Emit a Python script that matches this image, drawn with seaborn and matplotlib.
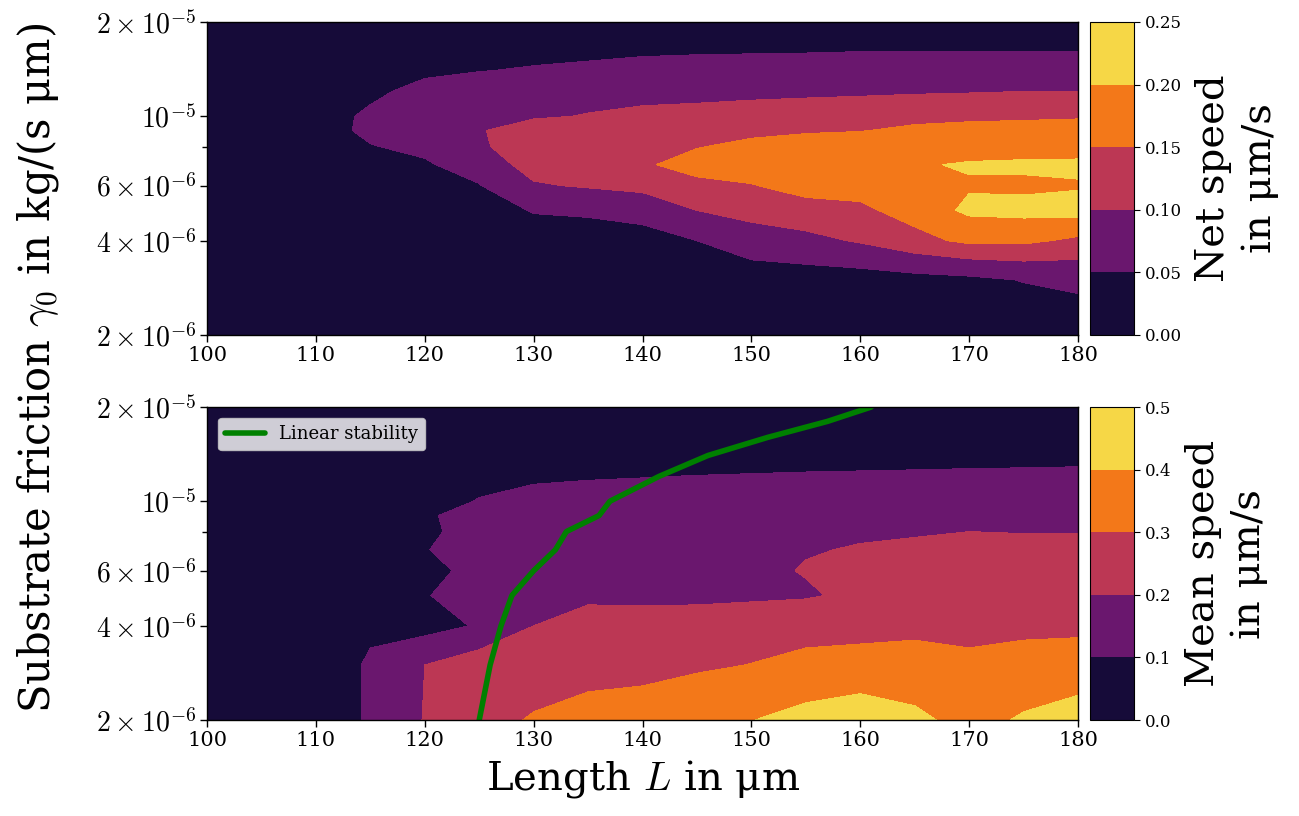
import numpy as np
import matplotlib
matplotlib.use("Agg")
import matplotlib.pyplot as plt
import seaborn as sns
from matplotlib.ticker import FixedLocator, NullFormatter, FormatStrFormatter

# ---------------- data ----------------
length_um = [100, 105, 110, 115, 120, 125, 130, 135, 140, 145, 150, 155, 160, 165, 170, 175, 180]
friction = [2e-6, 3e-6, 4e-6, 5e-6, 6e-6, 7e-6, 8e-6, 9e-6, 1e-5, 1.2e-5, 1.4e-5, 1.6e-5, 1.8e-5, 2e-5]

# net speed (µm/s): one list per length, values from lowest to highest friction
net_speed_by_length = [
    [0.01, 0.01, 0.01, 0.01, 0.02, 0.02, 0.02, 0.02, 0.02, 0.02, 0.01, 0.01, 0.01, 0.01],
    [0.01, 0.01, 0.01, 0.02, 0.02, 0.02, 0.03, 0.03, 0.03, 0.02, 0.02, 0.01, 0.01, 0.01],
    [0.01, 0.01, 0.02, 0.02, 0.03, 0.03, 0.03, 0.03, 0.03, 0.03, 0.03, 0.02, 0.01, 0.01],
    [0.01, 0.01, 0.02, 0.03, 0.035, 0.04, 0.048, 0.06, 0.058, 0.04, 0.035, 0.025, 0.015, 0.01],
    [0.01, 0.015, 0.02, 0.03, 0.038, 0.045, 0.06, 0.07, 0.075, 0.065, 0.04, 0.025, 0.015, 0.01],
    [0.01, 0.02, 0.025, 0.035, 0.048, 0.07, 0.092, 0.097, 0.095, 0.08, 0.048, 0.03, 0.015, 0.01],
    [0.015, 0.025, 0.035, 0.052, 0.095, 0.12, 0.13, 0.12, 0.095, 0.08, 0.055, 0.035, 0.02, 0.01],
    [0.015, 0.025, 0.035, 0.055, 0.105, 0.13, 0.14, 0.13, 0.102, 0.085, 0.06, 0.04, 0.02, 0.01],
    [0.015, 0.025, 0.035, 0.065, 0.115, 0.145, 0.145, 0.13, 0.11, 0.085, 0.065, 0.045, 0.025, 0.01],
    [0.015, 0.03, 0.05, 0.10, 0.14, 0.165, 0.148, 0.135, 0.115, 0.085, 0.068, 0.047, 0.025, 0.01],
    [0.015, 0.03, 0.072, 0.12, 0.148, 0.17, 0.16, 0.14, 0.12, 0.088, 0.07, 0.048, 0.025, 0.01],
    [0.015, 0.03, 0.085, 0.135, 0.165, 0.18, 0.17, 0.145, 0.125, 0.09, 0.072, 0.049, 0.025, 0.01],
    [0.015, 0.03, 0.105, 0.14, 0.17, 0.19, 0.18, 0.148, 0.13, 0.092, 0.073, 0.051, 0.025, 0.01],
    [0.015, 0.035, 0.135, 0.17, 0.185, 0.195, 0.18, 0.16, 0.135, 0.095, 0.075, 0.051, 0.025, 0.01],
    [0.02, 0.04, 0.16, 0.21, 0.195, 0.205, 0.175, 0.165, 0.14, 0.097, 0.077, 0.051, 0.025, 0.01],
    [0.02, 0.052, 0.16, 0.215, 0.19, 0.21, 0.172, 0.168, 0.142, 0.10, 0.078, 0.051, 0.025, 0.01],
    [0.02, 0.062, 0.14, 0.22, 0.195, 0.212, 0.172, 0.17, 0.145, 0.10, 0.078, 0.051, 0.025, 0.01],
]

# mean speed (µm/s): one list per length, values from lowest to highest friction
mean_speed_by_length = [
    [0.03, 0.03, 0.03, 0.03, 0.03, 0.03, 0.03, 0.03, 0.03, 0.02, 0.02, 0.02, 0.02, 0.02],
    [0.04, 0.04, 0.04, 0.04, 0.04, 0.04, 0.04, 0.04, 0.04, 0.03, 0.02, 0.02, 0.02, 0.02],
    [0.05, 0.05, 0.05, 0.05, 0.05, 0.05, 0.05, 0.05, 0.04, 0.03, 0.02, 0.02, 0.02, 0.02],
    [0.11, 0.11, 0.085, 0.07, 0.07, 0.07, 0.07, 0.06, 0.05, 0.04, 0.03, 0.02, 0.02, 0.02],
    [0.205, 0.2, 0.06, 0.095, 0.07, 0.095, 0.08, 0.09, 0.06, 0.04, 0.03, 0.02, 0.02, 0.02],
    [0.28, 0.25, 0.11, 0.14, 0.13, 0.15, 0.14, 0.13, 0.105, 0.07, 0.04, 0.03, 0.02, 0.02],
    [0.305, 0.265, 0.2, 0.16, 0.15, 0.15, 0.14, 0.13, 0.12, 0.09, 0.05, 0.03, 0.02, 0.02],
    [0.33, 0.265, 0.23, 0.185, 0.16, 0.16, 0.15, 0.14, 0.125, 0.095, 0.055, 0.03, 0.02, 0.02],
    [0.34, 0.27, 0.235, 0.18, 0.165, 0.17, 0.16, 0.15, 0.13, 0.098, 0.06, 0.03, 0.02, 0.02],
    [0.37, 0.285, 0.24, 0.18, 0.17, 0.175, 0.165, 0.155, 0.135, 0.102, 0.062, 0.03, 0.02, 0.02],
    [0.398, 0.302, 0.25, 0.185, 0.18, 0.185, 0.175, 0.16, 0.14, 0.105, 0.065, 0.03, 0.02, 0.02],
    [0.43, 0.32, 0.27, 0.19, 0.205, 0.195, 0.18, 0.165, 0.145, 0.108, 0.068, 0.03, 0.02, 0.02],
    [0.46, 0.32, 0.28, 0.22, 0.22, 0.205, 0.19, 0.17, 0.15, 0.11, 0.07, 0.035, 0.02, 0.02],
    [0.42, 0.33, 0.28, 0.24, 0.23, 0.21, 0.195, 0.175, 0.155, 0.112, 0.072, 0.035, 0.02, 0.02],
    [0.37, 0.32, 0.27, 0.25, 0.24, 0.215, 0.2, 0.18, 0.16, 0.115, 0.073, 0.035, 0.02, 0.02],
    [0.41, 0.33, 0.28, 0.25, 0.24, 0.215, 0.198, 0.18, 0.16, 0.117, 0.074, 0.035, 0.02, 0.02],
    [0.44, 0.34, 0.28, 0.25, 0.24, 0.215, 0.198, 0.18, 0.16, 0.12, 0.075, 0.035, 0.02, 0.02],
]

stability_length = [125, 126, 127, 128, 130, 132, 133, 136, 137, 141.5, 146, 151.5, 157, 161]
stability_friction = [2e-6, 3e-6, 4e-6, 5e-6, 6e-6, 7e-6, 8e-6, 9e-6, 1e-5, 1.2e-5, 1.4e-5, 1.6e-5, 1.8e-5, 2e-5]

net_levels = [0.0, 0.05, 0.10, 0.15, 0.20, 0.25]
mean_levels = [0.0, 0.1, 0.2, 0.3, 0.4, 0.5]

x_ticks = [100, 110, 120, 130, 140, 150, 160, 170, 180]
y_ticks = [2e-6, 4e-6, 6e-6, 1e-5, 2e-5]
y_ticklabels = [r"$2\times10^{-6}$", r"$4\times10^{-6}$", r"$6\times10^{-6}$",
                r"$10^{-5}$", r"$2\times10^{-5}$"]
y_minor = [8e-6]

# ---------------- style ----------------
sns.set_style("ticks")
plt.rcParams["font.family"] = ["DejaVu Serif"]
plt.rcParams["mathtext.fontset"] = "cm"
plt.rcParams["axes.edgecolor"] = "black"
plt.rcParams["text.color"] = "black"
plt.rcParams["axes.labelcolor"] = "black"
plt.rcParams["xtick.color"] = "black"
plt.rcParams["ytick.color"] = "black"

fig = plt.figure(figsize=(12.99, 8.16), dpi=100)
ax1 = fig.add_axes([0.1594, 0.5895, 0.6705, 0.3836])
ax2 = fig.add_axes([0.1594, 0.1176, 0.6705, 0.3836])
cax1 = fig.add_axes([0.8391, 0.5895, 0.0339, 0.3836])
cax2 = fig.add_axes([0.8391, 0.1176, 0.0339, 0.3836])

X, Y = np.meshgrid(length_um, friction)
Z_net = np.array(net_speed_by_length).T
Z_mean = np.array(mean_speed_by_length).T

cs1 = ax1.contourf(X, Y, Z_net, levels=net_levels, cmap="inferno")
cs2 = ax2.contourf(X, Y, Z_mean, levels=mean_levels, cmap="inferno")

sns.lineplot(x=stability_length, y=stability_friction, ax=ax2, color="green",
             lw=4, label="Linear stability", sort=False, estimator=None)

for ax in (ax1, ax2):
    ax.set_yscale("log")
    ax.set_xlim(100, 180)
    ax.set_ylim(2e-6, 2e-5)
    ax.set_xticks(x_ticks)
    ax.set_xticklabels([str(t) for t in x_ticks], fontsize=15)
    ax.yaxis.set_major_locator(FixedLocator(y_ticks))
    ax.set_yticklabels(y_ticklabels, fontsize=20)
    ax.yaxis.set_minor_locator(FixedLocator(y_minor))
    ax.yaxis.set_minor_formatter(NullFormatter())
    ax.tick_params(which="major", length=5, width=1, direction="out", pad=3,
                   colors="black", labelcolor="black")
    ax.tick_params(which="minor", length=3.5, width=1, direction="out", colors="black")
    ax.set_ylabel("")
    for s in ax.spines.values():
        s.set_linewidth(1.0)
        s.set_color("black")

ax1.set_xlabel("")
ax2.set_xlabel("Length $L$ in μm", fontsize=29, labelpad=6, color="black")

leg = ax2.legend(loc="upper left", fontsize=13, handlelength=2.2, borderaxespad=0.6)
for t in leg.get_texts():
    t.set_color("black")

cb1 = fig.colorbar(cs1, cax=cax1)
cb1.set_ticks(net_levels)
cb1.ax.yaxis.set_major_formatter(FormatStrFormatter("%.2f"))
cb1.ax.tick_params(labelsize=12, length=4, colors="black", labelcolor="black")
cb1.set_label("Net speed\nin μm/s", fontsize=29, labelpad=10, linespacing=1.3, color="black")
cb1.outline.set_edgecolor("black")

cb2 = fig.colorbar(cs2, cax=cax2)
cb2.set_ticks(mean_levels)
cb2.ax.yaxis.set_major_formatter(FormatStrFormatter("%.1f"))
cb2.ax.tick_params(labelsize=12, length=4, colors="black", labelcolor="black")
cb2.set_label("Mean speed\nin μm/s", fontsize=29, labelpad=10, linespacing=1.3, color="black")
cb2.outline.set_edgecolor("black")

fig.text(0.029, 0.549, "Substrate friction $\\gamma_0$ in kg/(s μm)", rotation=90,
         va="center", ha="center", fontsize=30, color="black")

fig.savefig("out.png", dpi=100)
